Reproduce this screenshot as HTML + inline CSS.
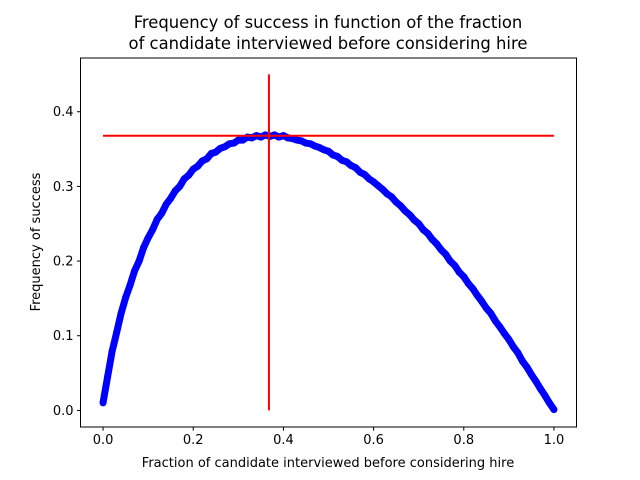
<!DOCTYPE html>
<html><head><meta charset="utf-8"><style>
body{margin:0;background:#fff}
svg{display:block;font-family:"DejaVu Sans","Liberation Sans",sans-serif}
</style></head><body>
<svg id="chart" width="640" height="480">
<text x="328" y="28" font-size="16.4" text-anchor="middle">Frequency of success in function of the fraction</text>
<text x="328" y="49" font-size="16.4" text-anchor="middle">of candidate interviewed before considering hire</text>
<g id="plot"></g>
<rect x="80.5" y="58" width="496" height="369" fill="none" stroke="#000" stroke-width="1"/>
<g id="xt"></g><g id="yt"></g>
<text x="328" y="467" font-size="13" text-anchor="middle">Fraction of candidate interviewed before considering hire</text>
<text transform="translate(40,242) rotate(-90)" font-size="13" text-anchor="middle">Frequency of success</text>
</svg>
<script>
const xValues=[0.00,0.01,0.02,0.03,0.04,0.05,0.06,0.07,0.08,0.09,0.10,0.11,0.12,0.13,0.14,0.15,0.16,0.17,0.18,0.19,0.20,0.21,0.22,0.23,0.24,0.25,0.26,0.27,0.28,0.29,0.30,0.31,0.32,0.33,0.34,0.35,0.36,0.37,0.38,0.39,0.40,0.41,0.42,0.43,0.44,0.45,0.46,0.47,0.48,0.49,0.50,0.51,0.52,0.53,0.54,0.55,0.56,0.57,0.58,0.59,0.60,0.61,0.62,0.63,0.64,0.65,0.66,0.67,0.68,0.69,0.70,0.71,0.72,0.73,0.74,0.75,0.76,0.77,0.78,0.79,0.80,0.81,0.82,0.83,0.84,0.85,0.86,0.87,0.88,0.89,0.90,0.91,0.92,0.93,0.94,0.95,0.96,0.97,0.98,0.99,1.00];
const successValues=[0.010,0.045,0.079,0.104,0.130,0.151,0.168,0.187,0.200,0.218,0.231,0.242,0.256,0.264,0.276,0.284,0.294,0.300,0.310,0.315,0.323,0.327,0.334,0.337,0.344,0.346,0.351,0.353,0.357,0.358,0.362,0.362,0.366,0.365,0.368,0.366,0.369,0.367,0.369,0.366,0.368,0.365,0.364,0.362,0.361,0.358,0.357,0.354,0.352,0.349,0.347,0.342,0.340,0.335,0.333,0.328,0.325,0.319,0.316,0.310,0.306,0.301,0.296,0.290,0.286,0.279,0.274,0.267,0.262,0.255,0.250,0.242,0.237,0.229,0.223,0.215,0.209,0.200,0.194,0.185,0.179,0.170,0.163,0.154,0.146,0.137,0.130,0.120,0.112,0.103,0.095,0.085,0.077,0.066,0.058,0.048,0.039,0.029,0.020,0.010,0.001];
const xTickLabels=["0.0","0.2","0.4","0.6","0.8","1.0"];
const xTicks=[0,0.2,0.4,0.6,0.8,1.0];
const yTickLabels=["0.0","0.1","0.2","0.3","0.4"];
const yTicks=[0,0.1,0.2,0.3,0.4];
const optimum=[0.3679];

const NS="http://www.w3.org/2000/svg";
const X0=80.5,X1=576.5,Y0=427.2,Y1=57.6;
const xmin=-0.05,xmax=1.05,ymin=-0.0225,ymax=0.4725;
const sx=v=>X0+(v-xmin)/(xmax-xmin)*(X1-X0);
const sy=v=>Y0-(v-ymin)/(ymax-ymin)*(Y0-Y1);
function mk(tag,attrs,parent){const e=document.createElementNS(NS,tag);for(const k in attrs)e.setAttribute(k,attrs[k]);parent.appendChild(e);return e;}
const plot=document.getElementById('plot');

let d=xValues.map((x,i)=>(i?'L':'M')+sx(x).toFixed(1)+','+sy(successValues[i]).toFixed(1)).join('');
const band=mk('path',{d:d,fill:'none',stroke:'#0000ff','stroke-width':7,'stroke-linejoin':'round'},plot);


xValues.forEach((x,i)=>{
  const c=mk('circle',{cx:sx(x),cy:sy(successValues[i]),r:3.5,fill:'#0000ff'},plot);
  
  
});
const vl=mk('line',{x1:sx(optimum[0]),x2:sx(optimum[0]),y1:sy(0),y2:sy(0.45),stroke:'#ff0000','stroke-width':2},plot);


const hl=mk('line',{x1:sx(0),x2:sx(1),y1:sy(optimum[0]),y2:sy(optimum[0]),stroke:'#ff0000','stroke-width':2},plot);



const xt=document.getElementById('xt');
xTicks.forEach((v,i)=>{
  const x=sx(v);
  mk('line',{x1:x,x2:x,y1:Y0,y2:Y0+3.5,stroke:'#000'},xt);
  const t=mk('text',{x:x,y:Y0+17,'font-size':13,'text-anchor':'middle'},xt);
  t.textContent=xTickLabels[i];
  
  
});
const yt=document.getElementById('yt');
yTicks.forEach((v,i)=>{
  const y=sy(v);
  mk('line',{x1:X0-3.5,x2:X0,y1:y,y2:y,stroke:'#000'},yt);
  const t=mk('text',{x:X0-7,y:y+4.5,'font-size':13,'text-anchor':'end'},yt);
  t.textContent=yTickLabels[i];
  
  
});
</script>
</body></html>
